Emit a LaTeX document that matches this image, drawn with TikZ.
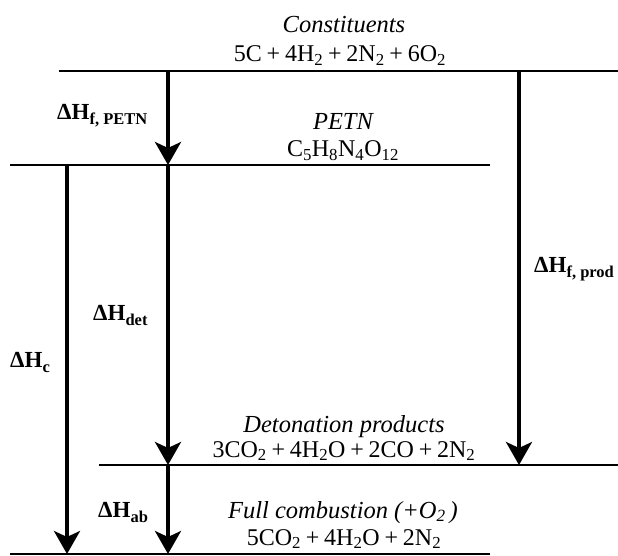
\documentclass[tikz,border=0pt]{standalone}
\usepackage{fontspec}
\setmainfont{Liberation Serif}
\usetikzlibrary{arrows.meta}
\newcommand{\chs}[1]{\textsubscript{#1}}
\newcommand{\bsb}[1]{\raisebox{-5pt}{\fontsize{16.5}{18}\selectfont\bfseries #1}}
\newcommand{\pls}{\hspace{0.2em}+\hspace{0.2em}}
\begin{document}
\begin{tikzpicture}[x=1pt,y=-1pt,
  level/.style={line width=2.6pt},
  flow/.style={line width=3.4pt,-{Stealth[length=23pt,width=26pt,inset=6pt]}},
  lname/.style={font=\fontsize{24.5}{28}\selectfont\itshape,anchor=base,inner sep=0pt},
  formula/.style={font=\fontsize{24}{28}\selectfont,anchor=base,inner sep=0pt},
  dh/.style={font=\fontsize{23}{26}\selectfont\bfseries,anchor=base west,inner sep=0pt}]
\useasboundingbox (0,0) rectangle (618,556);
% levels
\coordinate (c0) at (59,71);  \coordinate (c1) at (618,71);
\coordinate (p0) at (10,165); \coordinate (p1) at (490,165);
\coordinate (d0) at (99,465); \coordinate (d1) at (618,465);
\coordinate (b0) at (10,554); \coordinate (b1) at (490,554);
\draw[level] (c0) -- (c1);
\draw[level] (p0) -- (p1);
\draw[level] (d0) -- (d1);
\draw[level] (b0) -- (b1);
% arrow end points
\coordinate (aC) at (168,71);  \coordinate (aP) at (168,165);
\coordinate (aD) at (168,465); \coordinate (aB) at (168,554);
\coordinate (lP) at (67,165);  \coordinate (lB) at (67,554);
\coordinate (rC) at (519,71);  \coordinate (rD) at (519,465);
\draw[flow] (aC) -- (aP);
\draw[flow] (aP) -- (aD);
\draw[flow] (aD) -- (aB);
\draw[flow] (lP) -- (lB);
\draw[flow] (rC) -- (rD);
% level texts
\node[lname] (tc) at (344,33) {Constituents};
\node[formula] (fc) at (340,62) {5C\pls 4H\chs{2}\pls 2N\chs{2}\pls 6O\chs{2}};
\node[lname] (tp) at (343,130) {PETN};
\node[formula] (fp) at (343,157) {C\chs{5}H\chs{8}N\chs{4}O\chs{12}};
\node[lname] (td) at (344,432) {Detonation products};
\node[formula] (fd) at (344,457) {3CO\chs{2}\pls 4H\chs{2}O\pls 2CO\pls 2N\chs{2}};
\node[lname] (tb) at (343,518) {Full combustion (+O\chs{2}\,)};
\node[formula] (fb) at (344,545) {5CO\chs{2}\pls 4H\chs{2}O\pls 2N\chs{2}};
% enthalpy labels
\node[dh] (h1) at (57,120) {ΔH\bsb{f, PETN}};
\node[dh] (h2) at (534,272) {ΔH\bsb{f, prod}};
\node[dh] (h3) at (93,320) {ΔH\bsb{det}};
\node[dh] (h4) at (10,367) {ΔH\bsb{c}};
\node[dh] (h5) at (98,517) {ΔH\bsb{ab}};
\end{tikzpicture}
\end{document}
